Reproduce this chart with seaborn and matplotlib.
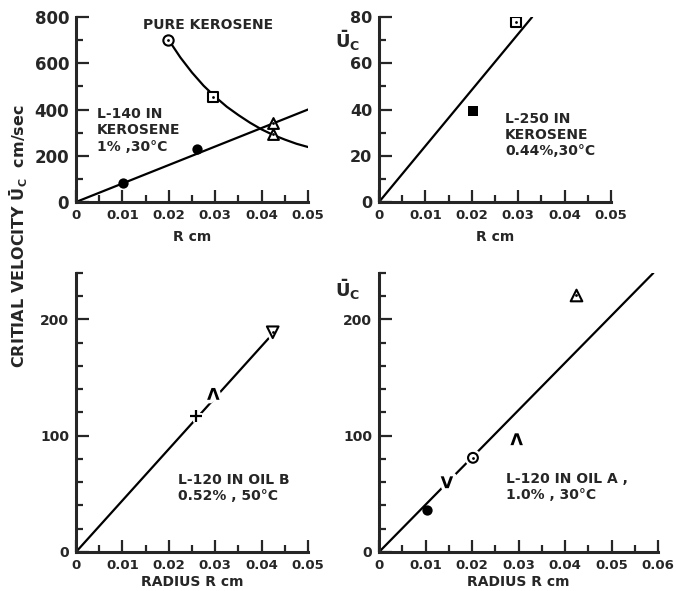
import matplotlib
matplotlib.use("Agg")
import matplotlib.pyplot as plt
import matplotlib.patheffects as pe
from matplotlib.ticker import MultipleLocator, FuncFormatter
import seaborn as sns

# --- data (R in cm, U_c in cm/sec) ---
# top left: L-140 in kerosene, 1%, 30C
l140_r = [0.0102, 0.026]
l140_u = [82, 230]
l140_fit_r = [0.0, 0.05]
l140_fit_u = [0, 400]
# pure kerosene curve and its points
pure_r = [0.020, 0.0225, 0.025, 0.0275, 0.030, 0.0325, 0.035, 0.0375,
          0.040, 0.0425, 0.045, 0.0475, 0.0505]
pure_u = [700, 625, 560, 503, 455, 412, 376, 343, 314, 290, 270, 252, 235]
pure_circ_r = [0.0198]
pure_circ_u = [700]
pure_sq_r = [0.0296]
pure_sq_u = [452]
shared_tri_r = [0.0425, 0.0425]
shared_tri_u = [292, 342]

# top right: L-250 in kerosene, 0.44%, 30C
l250_r = [0.0203]
l250_u = [39.5]
l250_sq_r = [0.0295]
l250_sq_u = [78]
l250_fit_r = [0.0, 0.033]
l250_fit_u = [0, 80]

# bottom left: L-120 in oil B, 0.52%, 50C
oilb_plus_r = [0.0259]
oilb_plus_u = [117]
oilb_lam_r = [0.0296]
oilb_lam_u = [136]
oilb_tri_r = [0.0424]
oilb_tri_u = [189]
oilb_fit_r = [0.0, 0.0436]
oilb_fit_u = [0, 193]

# bottom right: L-120 in oil A, 1.0%, 30C
oila_dot_r = [0.0103]
oila_dot_u = [36]
oila_v_r = [0.0146]
oila_v_u = [60]
oila_circ_r = [0.0202]
oila_circ_u = [81]
oila_lam_r = [0.0296]
oila_lam_u = [97]
oila_tri_r = [0.0424]
oila_tri_u = [221]
oila_fit_r = [0.0, 0.059]
oila_fit_u = [0, 240]

sns.set_style("ticks")
plt.rcParams["font.family"] = ["DejaVu Sans"]
plt.rcParams["font.weight"] = "bold"
plt.rcParams["mathtext.fontset"] = "dejavusans"

fig = plt.figure(figsize=(6.76, 5.91), dpi=100)
ax_tl = fig.add_axes([0.1124, 0.6582, 0.3432, 0.3130])
ax_tr = fig.add_axes([0.5607, 0.6582, 0.3432, 0.3130])
ax_bl = fig.add_axes([0.1124, 0.0660, 0.3432, 0.4721])
ax_br = fig.add_axes([0.5607, 0.0660, 0.4127, 0.4721])

halo = [pe.withStroke(linewidth=5, foreground="white")]
LW = 1.6


def fit_line(ax, r, u):
    sns.lineplot(x=r, y=u, ax=ax, color="black", linewidth=LW, zorder=2)


def open_dot(ax, r, u, marker, s=55, effects=None):
    sns.scatterplot(x=r, y=u, ax=ax, marker=marker, s=s, facecolor="white",
                    edgecolor="black", linewidth=1.5, zorder=4, path_effects=effects)
    sns.scatterplot(x=r, y=u, ax=ax, marker="o", s=4, color="black",
                    linewidth=0, zorder=5)


def char_mark(ax, r, u, marker, s=70, lw=0):
    sns.scatterplot(x=r, y=u, ax=ax, marker=marker, s=s, color="black",
                    edgecolor="black", linewidth=lw, zorder=4, path_effects=halo)


def style_axes(ax, xmax, ymax, ymajor, yminor, ysize):
    ax.set_xlim(0, xmax)
    ax.set_ylim(0, ymax)
    ax.xaxis.set_major_locator(MultipleLocator(0.01))
    ax.xaxis.set_minor_locator(MultipleLocator(0.005))
    ax.yaxis.set_major_locator(MultipleLocator(ymajor))
    ax.yaxis.set_minor_locator(MultipleLocator(yminor))
    ax.xaxis.set_major_formatter(FuncFormatter(lambda v, p: "0" if v == 0 else f"{v:.2f}"))
    ax.yaxis.set_major_formatter(FuncFormatter(lambda v, p: f"{v:.0f}"))
    sns.despine(ax=ax)
    for s in ("left", "bottom"):
        ax.spines[s].set_linewidth(2.2)
    ax.tick_params(which="both", direction="in", width=1.6)
    ax.tick_params(which="major", length=9)
    ax.tick_params(which="minor", length=5)
    ax.tick_params(axis="x", labelsize=9.5, pad=5)
    ax.tick_params(axis="y", labelsize=ysize, pad=5)
    for lab in ax.get_xticklabels() + ax.get_yticklabels():
        lab.set_fontweight("bold")
    ax.set_xlabel("")
    ax.set_ylabel("")


# top left
fit_line(ax_tl, l140_fit_r, l140_fit_u)
sns.lineplot(x=pure_r, y=pure_u, ax=ax_tl, color="black", linewidth=LW, zorder=2)
sns.scatterplot(x=l140_r, y=l140_u, ax=ax_tl, marker="o", s=55, color="black",
                linewidth=0, zorder=4)
open_dot(ax_tl, pure_circ_r, pure_circ_u, "o")
open_dot(ax_tl, pure_sq_r, pure_sq_u, "s", s=50)
open_dot(ax_tl, shared_tri_r, shared_tri_u, "^", s=60)
style_axes(ax_tl, 0.05, 800, 200, 100, 12)
ax_tl.text(0.0144, 765, "PURE KEROSENE", fontsize=10, fontweight="bold", va="center")
ax_tl.text(0.0045, 410, "L-140 IN\nKEROSENE\n1% ,30°C", fontsize=10,
           fontweight="bold", va="top", linespacing=1.2)
ax_tl.set_xlabel("R cm", fontsize=10, fontweight="bold", labelpad=6)

# top right
fit_line(ax_tr, l250_fit_r, l250_fit_u)
sns.scatterplot(x=l250_r, y=l250_u, ax=ax_tr, marker="s", s=55, color="black",
                linewidth=0, zorder=4)
open_dot(ax_tr, l250_sq_r, l250_sq_u, "s", s=50)
style_axes(ax_tr, 0.05, 80, 20, 10, 11.5)
ax_tr.text(0.0272, 39, "L-250 IN\nKEROSENE\n0.44%,30°C", fontsize=10,
           fontweight="bold", va="top", linespacing=1.2)
ax_tr.set_xlabel("R cm", fontsize=10, fontweight="bold", labelpad=6)
fig.text(0.496, 0.918, r"$\mathbf{\bar{U}_C}$", fontsize=13)

# bottom left
fit_line(ax_bl, oilb_fit_r, oilb_fit_u)
char_mark(ax_bl, oilb_plus_r, oilb_plus_u, "+", s=70, lw=1.6)
char_mark(ax_bl, oilb_lam_r, oilb_lam_u, r"$\Lambda$", s=80)
open_dot(ax_bl, oilb_tri_r, oilb_tri_u, "v", s=70, effects=halo)
style_axes(ax_bl, 0.05, 240, 100, 20, 10)
ax_bl.text(0.022, 68, "L-120 IN OIL B\n0.52% , 50°C", fontsize=10,
           fontweight="bold", va="top", linespacing=1.2)
ax_bl.set_xlabel("RADIUS R cm", fontsize=10, fontweight="bold", labelpad=2)

# bottom right
fit_line(ax_br, oila_fit_r, oila_fit_u)
sns.scatterplot(x=oila_dot_r, y=oila_dot_u, ax=ax_br, marker="o", s=55,
                color="black", linewidth=0, zorder=4)
char_mark(ax_br, oila_v_r, oila_v_u, r"$\mathrm{V}$", s=80)
open_dot(ax_br, oila_circ_r, oila_circ_u, "o", s=50, effects=halo)
char_mark(ax_br, oila_lam_r, oila_lam_u, r"$\Lambda$", s=80)
open_dot(ax_br, oila_tri_r, oila_tri_u, "^", s=70)
style_axes(ax_br, 0.06, 240, 100, 20, 10)
ax_br.text(0.0273, 69, "L-120 IN OIL A ,\n1.0% , 30°C", fontsize=10,
           fontweight="bold", va="top", linespacing=1.2)
ax_br.set_xlabel("RADIUS R cm", fontsize=10, fontweight="bold", labelpad=2)
fig.text(0.496, 0.497, r"$\mathbf{\bar{U}_C}$", fontsize=13)

# shared y label
fig.text(0.028, 0.60, r"CRITIAL VELOCITY $\mathbf{\bar{U}_C}$  cm/sec",
         rotation=90, fontsize=11.5, fontweight="bold", ha="center", va="center")

fig.savefig("out.png", dpi=100)
